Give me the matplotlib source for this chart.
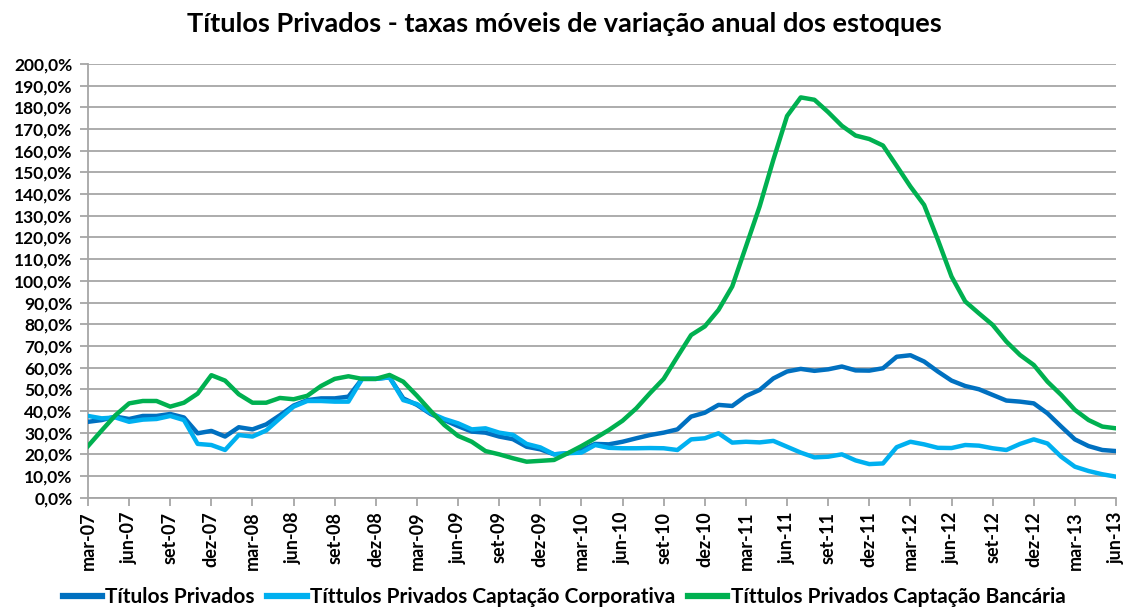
import matplotlib.pyplot as plt
from matplotlib.ticker import FuncFormatter

# monthly series, mar-07 .. jun-13 (annual growth rate of stocks, %)
months = ["jan", "fev", "mar", "abr", "mai", "jun", "jul", "ago", "set", "out", "nov", "dez"]

titulos_privados = [
    35, 35.8, 37.4, 36.3, 37.7, 37.7, 38.6, 37, 29.7, 30.8, 28.2, 32.5,
    31.5, 33.8, 38, 42.5, 45, 45.8, 45.8, 46.6, 54.8, 54.8, 55.5, 45.8,
    42.8, 38.6, 35.8, 33, 30.5, 30, 28.2, 27, 23.5, 22.3, 20, 20.5,
    22, 24.8, 24.6, 25.8, 27.4, 28.9, 30, 31.5, 37.4, 39.2, 42.8, 42.3,
    46.9, 49.7, 55, 58.2, 59.4, 58.5, 59.2, 60.5, 58.7, 58.6, 59.7, 65,
    65.7, 62.8, 58.2, 54, 51.5, 50, 47.4, 44.8, 44.3, 43.5, 38.9, 32.8,
    26.9, 23.8, 22, 21.5,
]
captacao_corporativa = [
    37.7, 36.6, 37, 35, 36, 36.3, 37.7, 35.8, 24.8, 24.3, 22, 28.9,
    28.2, 31, 36.6, 42, 44.6, 44.6, 44.3, 44.3, 54.8, 54.8, 55.5, 45,
    43.2, 39, 36.3, 34.3, 31.5, 32, 30, 29, 24.8, 23.2, 20, 20.5,
    20.8, 24.3, 23, 22.8, 22.8, 22.9, 22.8, 22, 26.9, 27.4, 29.7, 25.4,
    25.8, 25.5, 26.2, 23.5, 20.8, 18.6, 18.9, 20, 17.2, 15.5, 15.8, 23.3,
    25.8, 24.6, 23, 22.9, 24.3, 24, 22.8, 22, 24.8, 26.9, 25, 18.9,
    14.3, 12.3, 10.8, 9.7,
]
captacao_bancaria = [
    23.8, 31, 38, 43.5, 44.6, 44.6, 42, 43.8, 48, 56.5, 54, 47.7,
    43.8, 43.8, 46, 45.4, 47, 51.5, 54.8, 56, 54.8, 54.8, 56.6, 53.5,
    47, 40, 33.5, 28.5, 25.8, 21.5, 20, 18.2, 16.6, 17, 17.4, 20.5,
    23.8, 27.4, 31.2, 35.5, 41.2, 48.2, 54.8, 65, 75, 79, 86.6, 97.4,
    115.8, 134.3, 155.8, 176, 184.6, 183.5, 177.8, 171.5, 167, 165.4, 162.4, 153,
    143.5, 135, 119, 102, 90.5, 85, 79.7, 72, 65.8, 61.2, 53.5, 47.4,
    40.5, 35.8, 32.8, 32,
]

series_names = [
    "Títulos Privados",
    "Títtulos Privados Captação Corporativa",
    "Títtulos Privados Captação Bancária",
]

# month labels
labels = []
for i in range(len(titulos_privados)):
    m = (2 + i) % 12
    y = 7 + (2 + i) // 12
    labels.append(f"{months[m]}-{y:02d}")

plt.rcParams['font.family'] = ['Lato', 'DejaVu Sans']

fig = plt.figure(figsize=(11.28, 6.08), dpi=100)
ax = fig.add_axes([88 / 1128, 1 - 497.7 / 608, (1116 - 88) / 1128, (497.7 - 64) / 608])

x = list(range(len(titulos_privados)))
colors = ["#0070C0", "#00B0F0", "#00B050"]
for data, name, c in zip([titulos_privados, captacao_corporativa, captacao_bancaria],
                         series_names, colors):
    ax.plot(x, data, color=c, linewidth=3.2, label=name, solid_joinstyle='round',
            zorder=3)

ax.set_xlim(0, len(x) - 1)
ax.set_ylim(0, 200)
ax.set_yticks(range(0, 201, 10))
ax.yaxis.set_major_formatter(FuncFormatter(lambda v, p: f"{v:.1f}%".replace(".", ",")))
ax.set_xticks(x[::3])
ax.set_xticklabels(labels[::3], rotation=90)

ax.grid(axis='y', color='#A6A6A6', linewidth=1.3, zorder=0)
for s in ['top', 'right']:
    ax.spines[s].set_visible(False)
for s in ['left', 'bottom']:
    ax.spines[s].set_color('#A6A6A6')
    ax.spines[s].set_linewidth(1.3)

ax.tick_params(axis='both', colors='#A6A6A6', length=6, width=1.3, labelcolor='black')
ax.tick_params(axis='y', labelsize=12.5, pad=5)
ax.tick_params(axis='x', labelsize=13, pad=4)
for t in ax.get_yticklabels() + ax.get_xticklabels():
    t.set_fontweight('bold')

fig.text(0.5, 1 - 24 / 608, "Títulos Privados - taxas móveis de variação anual dos estoques",
         ha='center', va='center', fontsize=19.5, fontweight='bold')

leg = fig.legend(loc='center', bbox_to_anchor=(0.57 / 1.14, 1 - 597 / 608), ncol=3,
                 frameon=False, prop={'weight': 'bold', 'size': 15}, handlelength=1.9,
                 columnspacing=0.6, handletextpad=0.15, borderpad=0)
for line in leg.get_lines():
    line.set_linewidth(4.5)

fig.savefig("out.png", dpi=100)
